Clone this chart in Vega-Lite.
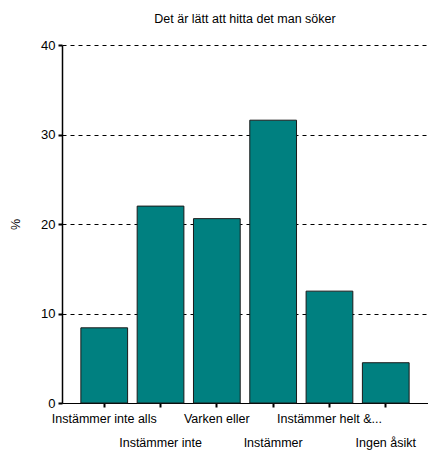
{
  "$schema": "https://vega.github.io/schema/vega-lite/v6.json",
  "autosize": {"type": "none"},
  "width": 366,
  "height": 358,
  "padding": {"left": 62, "top": 45, "right": 0, "bottom": 49},
  "background": "white",
  "title": {"text": "Det är lätt att hitta det man söker", "font": "Liberation Sans", "fontSize": 12.5, "fontWeight": "normal", "color": "black", "offset": 14, "anchor": "middle"},
  "data": {"values": [
    {"svar": "Instämmer inte alls", "pct": 8.4},
    {"svar": "Instämmer inte", "pct": 22.0},
    {"svar": "Varken eller", "pct": 20.6},
    {"svar": "Instämmer", "pct": 31.6},
    {"svar": "Instämmer helt &...", "pct": 12.5},
    {"svar": "Ingen åsikt", "pct": 4.5}
  ]},
  "mark": {"type": "bar", "color": "#008080", "stroke": "#1a1a1a", "strokeWidth": 1},
  "encoding": {
    "x": {
      "field": "svar", "type": "nominal", "sort": null,
      "scale": {"paddingInner": 0.17, "paddingOuter": 0.335},
      "axis": {
        "title": null, "labelAngle": 0, "domainColor": "black", "tickColor": "black",
        "tickSize": 4, "tickWidth": 2, "labelFont": "Liberation Sans", "labelFontSize": 12.5, "labelColor": "black",
        "labelPadding": 5, "labelLineHeight": 24, "labelBaseline": "top",
        "labelExpr": "round(datum.index*5)%2 ? ['', datum.label] : datum.label",
        "grid": false
      }
    },
    "y": {
      "field": "pct", "type": "quantitative",
      "scale": {"domain": [0, 40]},
      "axis": {
        "title": "%", "titleFont": "Liberation Sans", "titleFontSize": 12.5, "titleFontWeight": "normal", "titleColor": "black", "titlePadding": 18,
        "values": [0, 10, 20, 30, 40], "labelFont": "Liberation Sans", "labelFontSize": 13, "labelColor": "black",
        "domainColor": "black", "domainWidth": 1.5, "tickColor": "black", "tickSize": 4, "tickWidth": 2, "labelPadding": 3,
        "grid": true, "gridColor": "black", "gridDash": [4, 4], "gridWidth": 1
      }
    }
  },
  "config": {"view": {"stroke": null}}
}
